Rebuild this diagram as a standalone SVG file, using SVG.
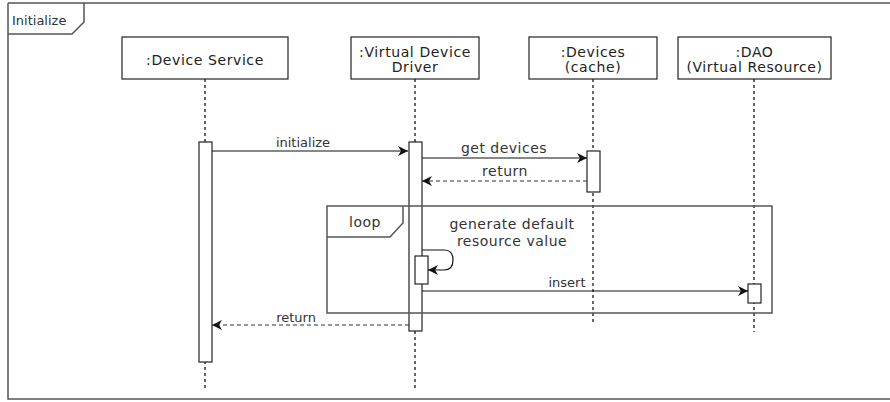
<svg xmlns="http://www.w3.org/2000/svg" width="890" height="402" viewBox="0 0 890 402">
<style>
text{font-family:"DejaVu Sans","Verdana",sans-serif;font-size:13px;fill:#333;}
.c{text-anchor:middle;}
.w{font-size:14px;letter-spacing:0.5px;}
.n{font-size:14px;letter-spacing:0.6px;fill:#222;}
.box{fill:#fff;stroke:#222;stroke-width:1.2;}
.act{fill:#fff;stroke:#222;stroke-width:1.2;}
.life{stroke:#333;stroke-width:1.5;stroke-dasharray:3 3;fill:none;}
.msg{stroke:#111;stroke-width:1.2;fill:none;}
.ret{stroke:#333;stroke-width:1.2;fill:none;stroke-dasharray:4 3;}
.frame{fill:none;stroke:#555;stroke-width:1.5;}
</style>
<defs>
<marker id="ah" viewBox="0 0 10 10" refX="10" refY="5" markerWidth="10" markerHeight="10" markerUnits="userSpaceOnUse" orient="auto">
<path d="M0,0 L10,5 L0,10 L3,5 Z" fill="#111"/>
</marker>
</defs>
<rect width="890" height="402" fill="#fff"/>
<g id="frame-initialize">
<path class="frame" d="M8,3 H890 M8,3 V399 H890"/>
<path class="frame" d="M8,34 H72 L84,22 V3"/>
<text x="12" y="25">Initialize</text>
</g>
<g id="lifelines">
<line class="life" x1="205" y1="79" x2="205" y2="390"/>
<line class="life" x1="415" y1="79" x2="415" y2="390"/>
<line class="life" x1="593" y1="79" x2="593" y2="323"/>
<line class="life" x1="754" y1="79" x2="754" y2="332"/>
</g>
<g id="device-service">
<rect class="box" x="122" y="37" width="166" height="42"/>
<text class="c n" x="205" y="65">:Device Service</text>
<rect class="act" x="199" y="142" width="13" height="220"/>
</g>
<g id="virtual-device-driver">
<rect class="box" x="351" y="37" width="128" height="42"/>
<text class="c n" x="415" y="57">:Virtual Device</text>
<text class="c n" x="415" y="72">Driver</text>
<rect class="act" x="409" y="142" width="13" height="189"/>
</g>
<g id="devices-cache">
<rect class="box" x="529" y="37" width="128" height="42"/>
<text class="c n" x="593" y="57">:Devices</text>
<text class="c n" x="593" y="72">(cache)</text>
<rect class="act" x="587" y="151" width="13" height="41"/>
</g>
<g id="dao">
<rect class="box" x="678" y="37" width="153" height="42"/>
<text class="c n" x="754.500" y="57">:DAO</text>
<text class="c n" x="754.500" y="72">(Virtual Resource)</text>
<rect class="act" x="748" y="284" width="13" height="19"/>
</g>
<g id="loop-frame">
<rect class="frame" x="327" y="206" width="445" height="107"/>
<path class="frame" d="M327,237 H390 L403,223 V206"/>
<text class="c w" x="365" y="227">loop</text>
</g>
<g id="self-activation">
<rect class="act" x="415" y="256" width="13" height="28"/>
</g>
<g id="connectors">
<line class="msg" x1="212" y1="151" x2="408" y2="151" marker-end="url(#ah)"/>
<text class="c" x="303" y="147">initialize</text>
<line class="msg" x1="422" y1="158" x2="587" y2="158" marker-end="url(#ah)"/>
<text class="c w" x="504" y="153">get devices</text>
<line class="ret" x1="587" y1="181" x2="422" y2="181" marker-end="url(#ah)"/>
<text class="c w" x="505" y="176">return</text>
<path class="msg" d="M422,250 H444 Q453,250 453,260 Q453,270 444,270 H428" marker-end="url(#ah)"/>
<text class="c w" x="512" y="229">generate default</text>
<text class="c w" x="512" y="246">resource value</text>
<line class="msg" x1="422" y1="291" x2="748" y2="291" marker-end="url(#ah)"/>
<text class="c" x="567" y="287">insert</text>
<line class="ret" x1="409" y1="325" x2="212" y2="325" marker-end="url(#ah)"/>
<text class="c" x="296" y="322">return</text>
</g>
</svg>
